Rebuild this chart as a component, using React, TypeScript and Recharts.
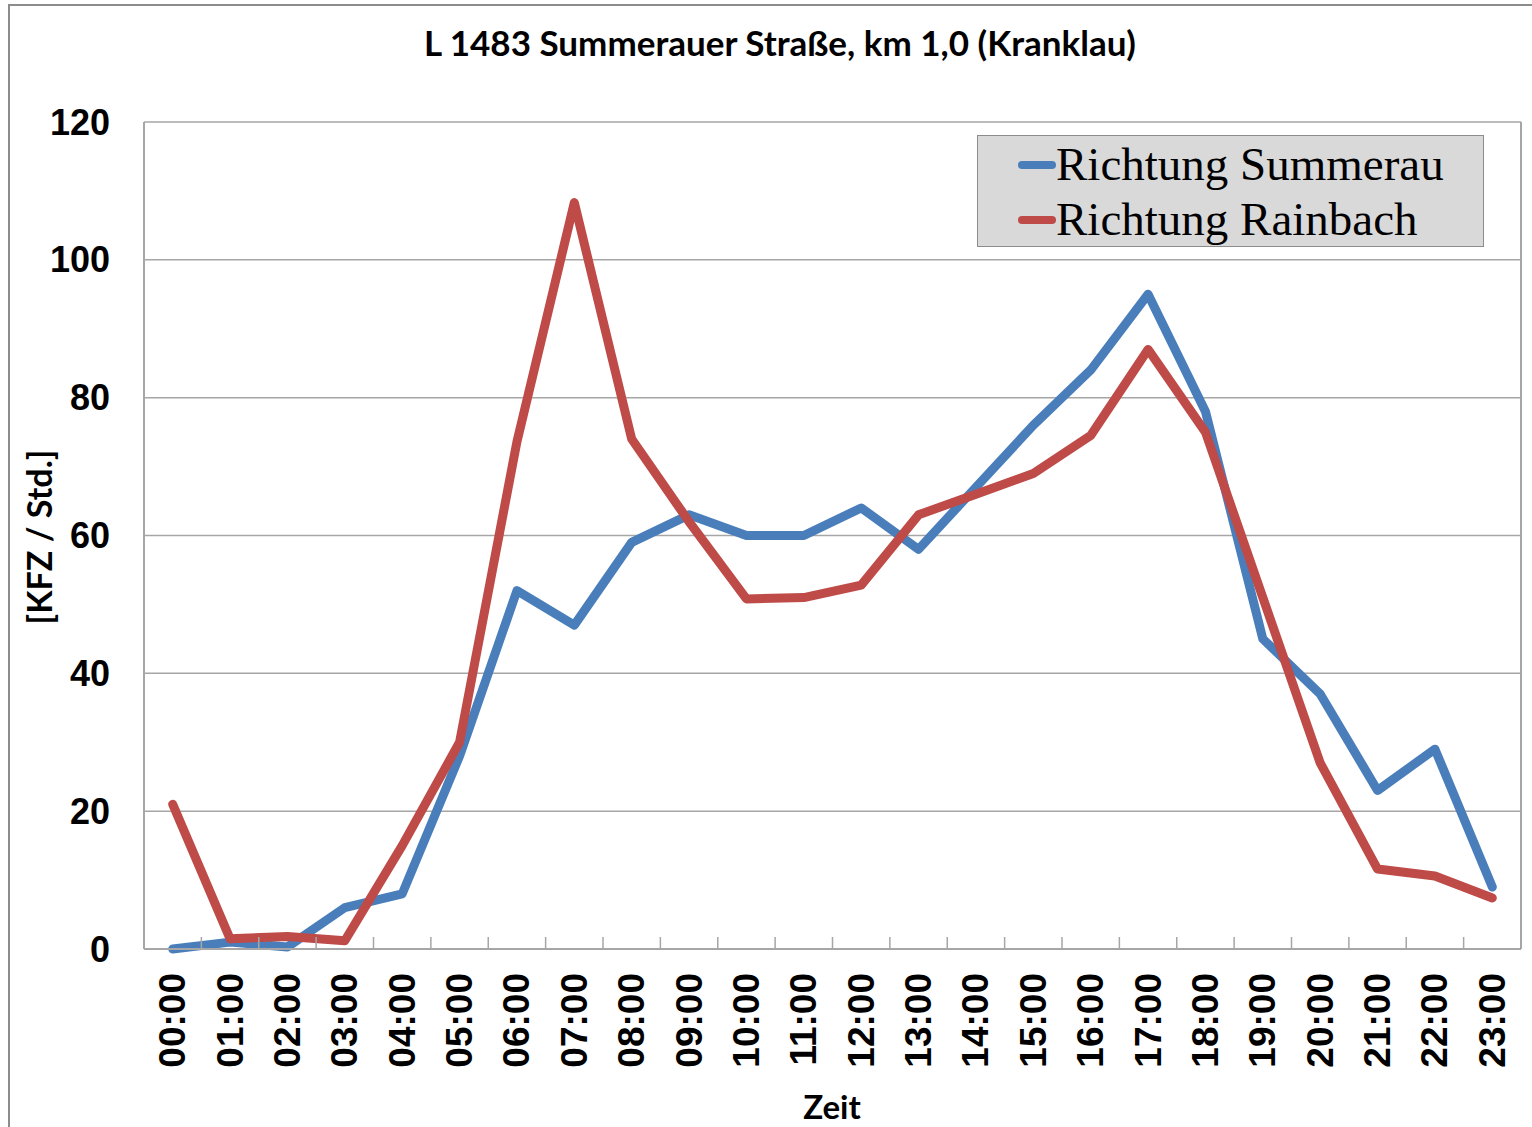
import React from 'react';
import { LineChart, Line, XAxis, YAxis, CartesianGrid, Legend } from 'recharts';

const hours = ['00:00', '01:00', '02:00', '03:00', '04:00', '05:00', '06:00', '07:00', '08:00', '09:00', '10:00', '11:00',
    '12:00', '13:00', '14:00', '15:00', '16:00', '17:00', '18:00', '19:00', '20:00', '21:00', '22:00', '23:00'];
const summerau = [0, 1, 0.3, 6, 8, 28, 52, 47, 59, 63, 60, 60, 64, 58, 67, 76, 84, 95, 78, 45, 37, 23, 29, 9];
const rainbach = [21, 1.5, 1.8, 1.2, 15, 30, 73.6, 108.3, 74, 62, 50.8, 51, 52.8, 63, 66, 69, 74.5, 87, 75, 51, 27, 11.6, 10.6, 7.4];
const yTicks = [0, 20, 40, 60, 80, 100, 120];
const seriesNames = ['Richtung Summerau', 'Richtung Rainbach'];

const COLORS = ['#4a7ebb', '#be4b48'];
const GRID = '#a6a6a6';

const W = 1532;
const H = 1127;
const PLOT_LEFT = 144;
const PLOT_RIGHT = 1521;
const STEP = (PLOT_RIGHT - PLOT_LEFT) / hours.length;

const data = hours.map((h, i) => ({ hour: h, summerau: summerau[i], rainbach: rainbach[i] }));

const XTick = (props: any) => {
    const { x, y, payload } = props;
    const bx = x - STEP / 2;
    return (
        <g>
            {payload.index > 0 && <line x1={bx} x2={bx} y1={y - 12} y2={y} stroke={GRID} strokeWidth={1.5} />}
            <text
                x={x}
                y={y + 24}
                transform={`rotate(-90, ${x}, ${y + 24})`}
                textAnchor="end"
                dominantBaseline="central"
                fontFamily="'Liberation Sans', Arial, sans-serif"
                fontWeight="bold"
                fontSize={37}
                fill="#000"
            >
                {payload.value}
            </text>
        </g>
    );
};

const YTick = (props: any) => {
    const { x, y, payload } = props;
    return (
        <text x={x - 34} y={y} textAnchor="end" dominantBaseline="central"
            fontFamily="'Liberation Sans', Arial, sans-serif" fontWeight="bold" fontSize={36} fill="#000">
            {payload.value}
        </text>
    );
};

const LegendBox = () => (
    <div style={{
        width: 505, height: 109, background: '#d9d9d9', border: '1px solid #8c8c8c',
        boxSizing: 'content-box', paddingTop: 1,
    }}>
        {seriesNames.map((name, i) => (
            <div key={name} style={{ display: 'flex', alignItems: 'center', height: 55, paddingLeft: 40 }}>
                <div style={{ width: 38, height: 8, borderRadius: 4, background: COLORS[i], marginRight: 0 }} />
                <span style={{ fontFamily: "'Liberation Serif', serif", fontSize: 47, color: '#000', lineHeight: 1 }}>{name}</span>
            </div>
        ))}
    </div>
);

const App: React.FC = () => {
    return (
        <div style={{ position: 'absolute', left: 0, top: 0, width: W, height: H, background: '#fff', overflow: 'hidden' }}>
            <div style={{
                position: 'absolute', left: 8, top: 4, right: 0, bottom: 0,
                borderLeft: '2px solid #8c8c8c', borderTop: '2px solid #8c8c8c',
            }} />
            <div style={{
                position: 'absolute', left: 0, width: W, top: 42, transform: 'translateY(-50%)', textAlign: 'center', paddingLeft: 14,
                fontFamily: 'Lato, sans-serif', fontWeight: 'bold', fontSize: 35, color: '#000', whiteSpace: 'nowrap',
            }}>
                L 1483 Summerauer Straße, km 1,0 (Kranklau)
            </div>
            <div style={{
                position: 'absolute', left: 38, top: 537, transform: 'translate(-50%, -50%) rotate(-90deg)',
                fontFamily: 'Lato, sans-serif', fontWeight: 'bold', fontSize: 34, color: '#000', whiteSpace: 'nowrap',
            }}>
                [KFZ / Std.]
            </div>
            <div style={{
                position: 'absolute', left: 832, top: 1106, transform: 'translate(-50%, -50%)',
                fontFamily: 'Lato, sans-serif', fontWeight: 'bold', fontSize: 33, color: '#000',
            }}>
                Zeit
            </div>
            <LineChart width={W} height={H} data={data} margin={{ top: 122, right: 0, bottom: 58, left: 0 }}
                style={{ position: 'absolute', left: 0, top: 0 }}>
                <CartesianGrid vertical={false} stroke={GRID} strokeWidth={1.5} />
                <XAxis dataKey="hour" height={120} padding={{ left: STEP / 2, right: STEP / 2 }}
                    axisLine={{ stroke: GRID, strokeWidth: 2 }} tickLine={false} tickSize={0} tickMargin={0}
                    interval={0} tick={<XTick />} />
                <YAxis width={PLOT_LEFT} domain={[0, 120]} ticks={yTicks} interval={0}
                    axisLine={{ stroke: GRID, strokeWidth: 2 }} tickLine={false} tickSize={0} tickMargin={0}
                    tick={<YTick />} />
                <YAxis yAxisId="right" orientation="right" width={W - PLOT_RIGHT} domain={[0, 120]}
                    axisLine={{ stroke: GRID, strokeWidth: 2 }} tick={false} tickLine={false} />
                <Legend layout="vertical" align="center" verticalAlign="middle" content={<LegendBox />}
                    wrapperStyle={{ position: 'absolute', left: 977, top: 135, width: 507, height: 111 }} />
                <Line type="linear" dataKey="summerau" name={seriesNames[0]} stroke={COLORS[0]} strokeWidth={9}
                    strokeLinejoin="round" strokeLinecap="round" dot={false} activeDot={false} isAnimationActive={false} />
                <Line type="linear" dataKey="rainbach" name={seriesNames[1]} stroke={COLORS[1]} strokeWidth={9}
                    strokeLinejoin="round" strokeLinecap="round" dot={false} activeDot={false} isAnimationActive={false} />
            </LineChart>
        </div>
    );
};

export default App;
